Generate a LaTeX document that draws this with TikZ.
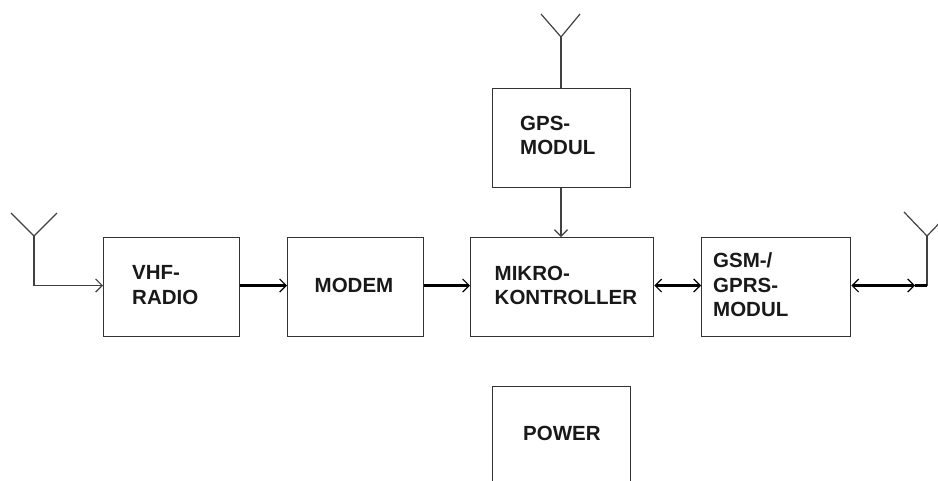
\documentclass[tikz,border=0pt]{standalone}
\usepackage{fontspec}
\setmainfont{Liberation Sans}
\usetikzlibrary{arrows.meta}
\tikzset{
  x=1pt,y=-1pt,
  blk/.style={draw=black!80,line width=1.3pt,inner sep=0pt,anchor=north west},
  lbl/.style={anchor=west,align=left,inner sep=0pt,font=\fontsize{20.5}{24.5}\selectfont\bfseries,text=black!90},
  wire/.style={draw=black!75,line width=1.2pt},
  bus/.style={draw=black,line width=2.4pt},
  tip/.style={-{Straight Barb[length=6.5pt,width=13pt,line width=1.2pt]}},
  tips/.style={{Straight Barb[length=6.5pt,width=13pt,line width=1.2pt]}-{Straight Barb[length=6.5pt,width=13pt,line width=1.2pt]}},
}
\begin{document}
\begin{tikzpicture}
\useasboundingbox (0,0) rectangle (938,480);
\clip (0,0) rectangle (938,480);
\node[blk,minimum width=136pt,minimum height=99pt] (vhf) at (103,237) {};
\node[blk,minimum width=136pt,minimum height=99pt] (modem) at (287,237) {};
\node[blk,minimum width=183pt,minimum height=99pt] (mikro) at (470,237) {};
\node[blk,minimum width=149pt,minimum height=99pt] (gsm) at (701,237) {};
\node[blk,minimum width=138pt,minimum height=99pt] (gps) at (492,88) {};
\node[blk,minimum width=138pt,minimum height=99pt] (power) at (492,386) {};
\node[lbl] (tvhf) at (132,285) {VHF-\\RADIO};
\node[lbl] (tmodem) at (314.5,285) {MODEM};
\node[lbl] (tmikro) at (494.5,285.5) {MIKRO-\\KONTROLLER};
\node[lbl] (tgsm) at (713,285) {GSM-/\\GPRS-\\MODUL};
\node[lbl] (tgps) at (520,135.5) {GPS-\\MODUL};
\node[lbl] (tpower) at (523,433) {POWER};
% antennas
\coordinate (al) at (34,236); \coordinate (all) at (11,213); \coordinate (alr) at (57,213); \coordinate (alb) at (34,285.5);
\coordinate (ar) at (927,236); \coordinate (arl) at (904,212); \coordinate (arr) at (950,212); \coordinate (arb) at (927,285.5);
\coordinate (armid) at (915,285.5);
\coordinate (ag) at (561,37); \coordinate (agl) at (541,14); \coordinate (agr) at (580,14);
\draw[wire] (all) -- (al) -- (alr);
\draw[wire] (al) -- (alb);
\draw[wire,tip] (alb) -- (vhf.west |- alb);
\draw[wire] (arl) -- (ar) -- (arr);
\draw[wire] (ar) -- (arb);
\draw[wire] (agl) -- (ag) -- (agr);
\draw[wire] (ag) -- (gps.north -| ag);
\draw[wire,tip] (gps.south -| ag) -- (mikro.north -| ag);
\draw[bus,tip] (vhf.east |- alb) -- (modem.west |- alb);
\draw[bus,tip] (modem.east |- alb) -- (mikro.west |- alb);
\draw[bus,tips] (mikro.east |- alb) -- (gsm.west |- alb);
\draw[bus,tips] (gsm.east |- alb) -- (armid);
\draw[bus] (armid) -- (arb);
\end{tikzpicture}
\end{document}
